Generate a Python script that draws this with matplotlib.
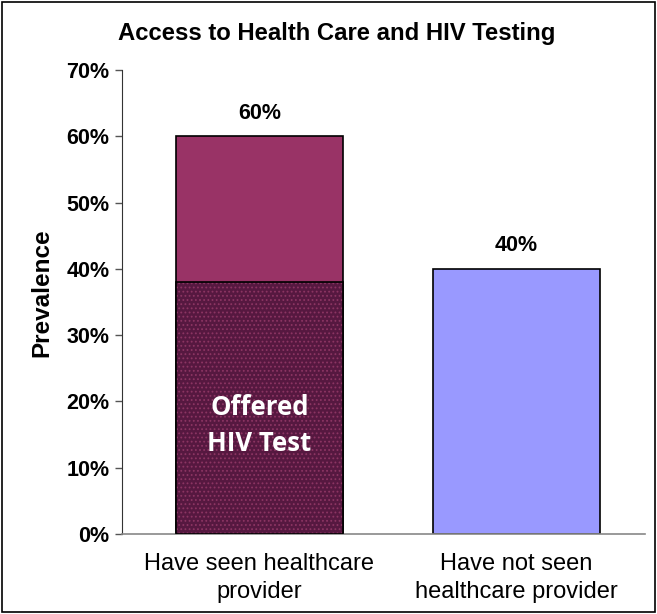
import matplotlib.pyplot as plt
from matplotlib.patches import Rectangle

categories = ['Have seen healthcare\nprovider', 'Have not seen\nhealthcare provider']
prevalence = [60, 40]
offered_hiv_test = [38, None]
yticks = [0, 10, 20, 30, 40, 50, 60, 70]

plt.rcParams['font.family'] = ['Liberation Sans', 'DejaVu Sans']
plt.rcParams['hatch.linewidth'] = 0.8

fig = plt.figure(figsize=(6.57, 6.14), dpi=100)
ax = fig.add_axes([0.1857, 0.1303, 0.796, 0.7557])

x = list(range(len(categories)))
colors = ['#993366', '#9999ff']
bars = ax.bar(x, prevalence, width=0.65, color=colors, edgecolor='black', linewidth=1.2, zorder=2)

# offered HIV test portion (first bar only)
ax.bar(x[0], offered_hiv_test[0], width=0.65, color='#561840', edgecolor='#8c3563',
       hatch='....', linewidth=0, zorder=3)
ax.bar(x[0], offered_hiv_test[0], width=0.65, fill=False, edgecolor='black', linewidth=1.2, zorder=4)
ax.text(x[0], offered_hiv_test[0] * 0.43, 'Offered\nHIV Test', color='white', ha='center', va='center',
        fontsize=18.5, fontweight='bold', family=['Open Sans', 'DejaVu Sans'], linespacing=1.4, zorder=5)

for xi, v in zip(x, prevalence):
    ax.text(xi, v + 1.9, f'{v}%', ha='center', va='bottom', fontsize=15.5, fontweight='bold')

ax.set_ylim(0, 70)
ax.set_xlim(-0.535, 1.5)
ax.set_yticks(yticks)
ax.set_yticklabels([f'{t}%' for t in yticks], fontsize=15.5, fontweight='bold')
ax.set_xticks(x)
ax.set_xticklabels(categories, fontsize=17, linespacing=1.3)
ax.tick_params(axis='x', length=0, pad=14)
ax.tick_params(axis='y', direction='out', length=5, width=1, color='#555555', pad=4)
ax.set_ylabel('Prevalence', fontsize=17.5, fontweight='bold')
ax.yaxis.set_label_coords(-0.132, 0.52)

for s in ['top', 'right']:
    ax.spines[s].set_visible(False)
ax.spines['left'].set_color('#333333')
ax.spines['bottom'].set_color('#888888')
ax.spines['bottom'].set_linewidth(1.2)

fig.text(0.513, 0.945, 'Access to Health Care and HIV Testing', ha='center', va='center',
         fontsize=17.2, fontweight='bold')

fig.patches.append(Rectangle((0.003, 0.003), 0.994, 0.994, transform=fig.transFigure,
                             fill=False, edgecolor='black', linewidth=1.2))

fig.savefig('out.png', dpi=100)
